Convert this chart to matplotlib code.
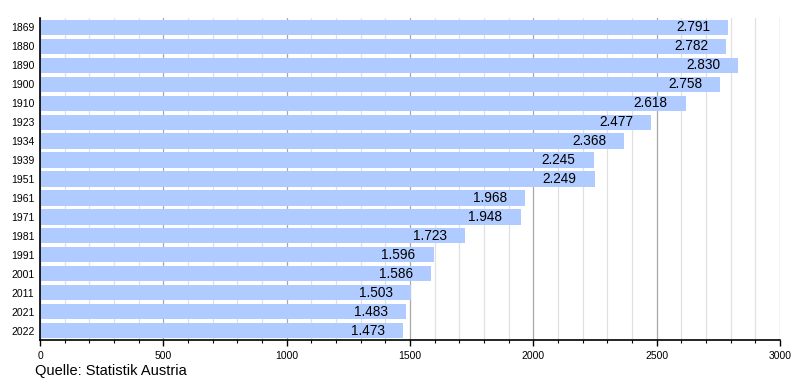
import matplotlib
matplotlib.use("Agg")
import matplotlib.pyplot as plt
from matplotlib.ticker import MultipleLocator

years = ["1869", "1880", "1890", "1900", "1910", "1923", "1934", "1939", "1951",
         "1961", "1971", "1981", "1991", "2001", "2011", "2021", "2022"]
population = [2791, 2782, 2830, 2758, 2618, 2477, 2368, 2245, 2249,
              1968, 1948, 1723, 1596, 1586, 1503, 1483, 1473]
x_ticks = [0, 500, 1000, 1500, 2000, 2500, 3000]

plt.rcParams['font.family'] = ['Liberation Sans', 'DejaVu Sans']
fig = plt.figure(figsize=(8, 3.8), dpi=100)
ax = fig.add_axes([40/800, 1-340/380, 740/800, 322/380])

pos = list(range(len(years)))
ax.barh(pos, population, height=0.81, color="#b0cbff", zorder=2)
ax.set_ylim(len(years)-0.5, -0.5)
ax.set_xlim(0, 3000)
ax.set_yticks(pos)
ax.set_yticklabels(years, fontsize=7.5)
ax.set_xticks(x_ticks)
ax.set_xticklabels([str(t) for t in x_ticks], fontsize=7.5)
ax.xaxis.set_minor_locator(MultipleLocator(100))
ax.tick_params(axis='y', length=0, pad=4)
ax.tick_params(axis='x', which='major', length=4, width=1, direction='out', pad=4)
ax.tick_params(axis='x', which='minor', length=2.5, width=0.8, direction='out')
ax.grid(axis='x', which='major', color='#a8a8a8', linewidth=0.9, zorder=0)
ax.grid(axis='x', which='minor', color='#e0e0e0', linewidth=0.9, zorder=0)
ax.set_axisbelow(True)
for s in ['top', 'right']:
    ax.spines[s].set_visible(False)
for s in ['left', 'bottom']:
    ax.spines[s].set_color('black')
    ax.spines[s].set_linewidth(1.2)

for p, v in zip(pos, population):
    lbl = f"{v:,}".replace(",", ".")
    ax.annotate(lbl, xy=(v, p), xytext=(-13, 0), textcoords='offset points',
                ha='right', va='center', fontsize=9.8, color='black', zorder=3)

fig.text(35/800, 1-375/380, "Quelle: Statistik Austria", fontsize=10.5, ha='left', va='baseline')
fig.savefig("out.png", dpi=100)
